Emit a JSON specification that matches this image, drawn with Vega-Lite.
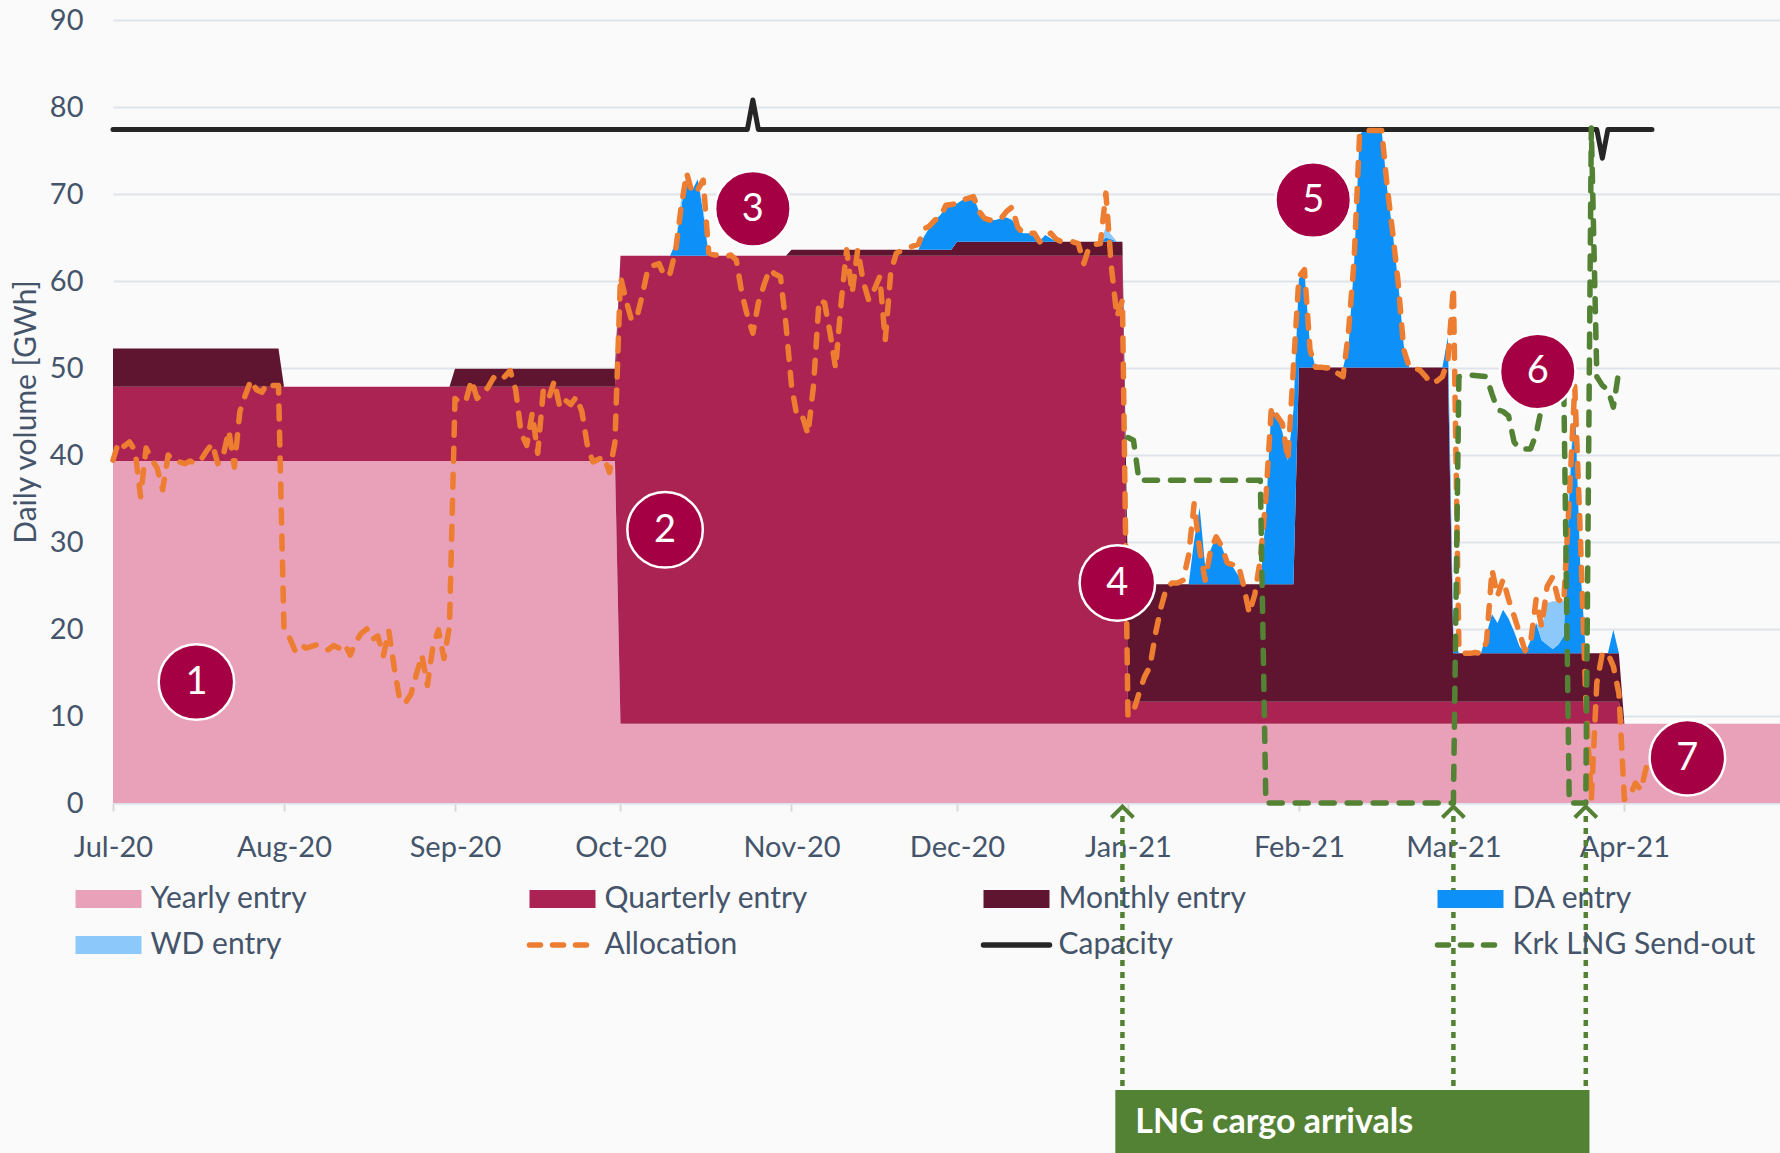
{
"$schema": "https://vega.github.io/schema/vega-lite/v6.json",
"width": 1667, "height": 783,
"autosize": {"type": "none"},
"padding": {"left": 113, "top": 20, "right": 0, "bottom": 350},
"background": "#FAFAFA",
"config": {
 "view": {"stroke": null},
 "font": "Lato",
 "axis": {"labelFont": "Lato", "titleFont": "Lato", "labelColor": "#44546A", "titleColor": "#44546A", "labelFontSize": 29, "titleFontSize": 30, "titleFontWeight": "normal"},
 "legend": {"labelFont": "Lato"}
},
"datasets": {
 "ord": [
  {"k": "Y", "s": "Yearly entry", "o": 1},
  {"k": "Q", "s": "Quarterly entry", "o": 2},
  {"k": "M", "s": "Monthly entry", "o": 3},
  {"k": "DA", "s": "DA entry", "o": 4},
  {"k": "WD", "s": "WD entry", "o": 5}
 ],
 "area": [
  {"d":"2020-07-01","Y":39.3,"Q":8.55,"M":4.4,"DA":0,"WD":0},
  {"d":"2020-07-31","Y":39.3,"Q":8.55,"M":4.4,"DA":0,"WD":0},
  {"d":"2020-08-01","Y":39.3,"Q":8.55,"M":0,"DA":0,"WD":0},
  {"d":"2020-08-31","Y":39.3,"Q":8.55,"M":0,"DA":0,"WD":0},
  {"d":"2020-09-01","Y":39.3,"Q":8.55,"M":2.05,"DA":0,"WD":0},
  {"d":"2020-09-30","Y":39.3,"Q":8.55,"M":2.05,"DA":0,"WD":0},
  {"d":"2020-10-01","Y":9.1,"Q":53.8,"M":0,"DA":0,"WD":0},
  {"d":"2020-10-10","Y":9.1,"Q":53.8,"M":0,"DA":0,"WD":0},
  {"d":"2020-10-11","Y":9.1,"Q":53.8,"M":0,"DA":1.5,"WD":0},
  {"d":"2020-10-12","Y":9.1,"Q":53.8,"M":0,"DA":5.5,"WD":1},
  {"d":"2020-10-13","Y":9.1,"Q":53.8,"M":0,"DA":9.3,"WD":0},
  {"d":"2020-10-14","Y":9.1,"Q":53.8,"M":0,"DA":7.5,"WD":0},
  {"d":"2020-10-15","Y":9.1,"Q":53.8,"M":0,"DA":8.8,"WD":0},
  {"d":"2020-10-16","Y":9.1,"Q":53.8,"M":0,"DA":5,"WD":0.5},
  {"d":"2020-10-17","Y":9.1,"Q":53.8,"M":0,"DA":0,"WD":0},
  {"d":"2020-10-31","Y":9.1,"Q":53.8,"M":0,"DA":0,"WD":0},
  {"d":"2020-11-01","Y":9.1,"Q":53.8,"M":0.7,"DA":0,"WD":0},
  {"d":"2020-11-24","Y":9.1,"Q":53.8,"M":0.7,"DA":0,"WD":0},
  {"d":"2020-11-25","Y":9.1,"Q":53.8,"M":0.7,"DA":1.5,"WD":0},
  {"d":"2020-11-26","Y":9.1,"Q":53.8,"M":0.7,"DA":2.5,"WD":0},
  {"d":"2020-11-27","Y":9.1,"Q":53.8,"M":0.7,"DA":3.4,"WD":0},
  {"d":"2020-11-28","Y":9.1,"Q":53.8,"M":0.7,"DA":4.0,"WD":0},
  {"d":"2020-11-29","Y":9.1,"Q":53.8,"M":0.7,"DA":5.0,"WD":0},
  {"d":"2020-11-30","Y":9.1,"Q":53.8,"M":0.7,"DA":5.2,"WD":0},
  {"d":"2020-12-01","Y":9.1,"Q":53.8,"M":1.6,"DA":4.4,"WD":0},
  {"d":"2020-12-02","Y":9.1,"Q":53.8,"M":1.6,"DA":4.8,"WD":0},
  {"d":"2020-12-03","Y":9.1,"Q":53.8,"M":1.6,"DA":5.0,"WD":0},
  {"d":"2020-12-04","Y":9.1,"Q":53.8,"M":1.6,"DA":5.2,"WD":0},
  {"d":"2020-12-05","Y":9.1,"Q":53.8,"M":1.6,"DA":3.5,"WD":0},
  {"d":"2020-12-06","Y":9.1,"Q":53.8,"M":1.6,"DA":2.6,"WD":0},
  {"d":"2020-12-07","Y":9.1,"Q":53.8,"M":1.6,"DA":2.5,"WD":0},
  {"d":"2020-12-08","Y":9.1,"Q":53.8,"M":1.6,"DA":2.5,"WD":0},
  {"d":"2020-12-09","Y":9.1,"Q":53.8,"M":1.6,"DA":2.7,"WD":0},
  {"d":"2020-12-10","Y":9.1,"Q":53.8,"M":1.6,"DA":2.8,"WD":0},
  {"d":"2020-12-11","Y":9.1,"Q":53.8,"M":1.6,"DA":2.5,"WD":0},
  {"d":"2020-12-12","Y":9.1,"Q":53.8,"M":1.6,"DA":1.5,"WD":0},
  {"d":"2020-12-13","Y":9.1,"Q":53.8,"M":1.6,"DA":1.0,"WD":0},
  {"d":"2020-12-14","Y":9.1,"Q":53.8,"M":1.6,"DA":1.0,"WD":0},
  {"d":"2020-12-15","Y":9.1,"Q":53.8,"M":1.6,"DA":0.6,"WD":0},
  {"d":"2020-12-16","Y":9.1,"Q":53.8,"M":1.6,"DA":0.1,"WD":0},
  {"d":"2020-12-17","Y":9.1,"Q":53.8,"M":1.6,"DA":0.8,"WD":0},
  {"d":"2020-12-18","Y":9.1,"Q":53.8,"M":1.6,"DA":0.4,"WD":0},
  {"d":"2020-12-19","Y":9.1,"Q":53.8,"M":1.6,"DA":0,"WD":0},
  {"d":"2020-12-27","Y":9.1,"Q":53.8,"M":1.6,"DA":0,"WD":0},
  {"d":"2020-12-28","Y":9.1,"Q":53.8,"M":1.6,"DA":0.5,"WD":1.2},
  {"d":"2020-12-29","Y":9.1,"Q":53.8,"M":1.6,"DA":0.3,"WD":0.5},
  {"d":"2020-12-30","Y":9.1,"Q":53.8,"M":1.6,"DA":0,"WD":0},
  {"d":"2020-12-31","Y":9.1,"Q":53.8,"M":1.6,"DA":0,"WD":0},
  {"d":"2021-01-01","Y":9.1,"Q":2.55,"M":13.5,"DA":0,"WD":0},
  {"d":"2021-01-12","Y":9.1,"Q":2.55,"M":13.5,"DA":0,"WD":0},
  {"d":"2021-01-13","Y":9.1,"Q":2.55,"M":13.5,"DA":5,"WD":0},
  {"d":"2021-01-14","Y":9.1,"Q":2.55,"M":13.5,"DA":8.8,"WD":0},
  {"d":"2021-01-15","Y":9.1,"Q":2.55,"M":13.5,"DA":2,"WD":0},
  {"d":"2021-01-16","Y":9.1,"Q":2.55,"M":13.5,"DA":4,"WD":0},
  {"d":"2021-01-17","Y":9.1,"Q":2.55,"M":13.5,"DA":5.5,"WD":0},
  {"d":"2021-01-18","Y":9.1,"Q":2.55,"M":13.5,"DA":4.3,"WD":0},
  {"d":"2021-01-19","Y":9.1,"Q":2.55,"M":13.5,"DA":2.6,"WD":0},
  {"d":"2021-01-20","Y":9.1,"Q":2.55,"M":13.5,"DA":2,"WD":0},
  {"d":"2021-01-21","Y":9.1,"Q":2.55,"M":13.5,"DA":1,"WD":0},
  {"d":"2021-01-22","Y":9.1,"Q":2.55,"M":13.5,"DA":0,"WD":0},
  {"d":"2021-01-25","Y":9.1,"Q":2.55,"M":13.5,"DA":0,"WD":0},
  {"d":"2021-01-26","Y":9.1,"Q":2.55,"M":13.5,"DA":8,"WD":0},
  {"d":"2021-01-27","Y":9.1,"Q":2.55,"M":13.5,"DA":20.3,"WD":0},
  {"d":"2021-01-28","Y":9.1,"Q":2.55,"M":13.5,"DA":19.3,"WD":0},
  {"d":"2021-01-29","Y":9.1,"Q":2.55,"M":13.5,"DA":17.5,"WD":0},
  {"d":"2021-01-30","Y":9.1,"Q":2.55,"M":13.5,"DA":14.2,"WD":0},
  {"d":"2021-01-31","Y":9.1,"Q":2.55,"M":13.5,"DA":20,"WD":0},
  {"d":"2021-02-01","Y":9.1,"Q":2.55,"M":38.4,"DA":10.2,"WD":0},
  {"d":"2021-02-02","Y":9.1,"Q":2.55,"M":38.4,"DA":11,"WD":0},
  {"d":"2021-02-03","Y":9.1,"Q":2.55,"M":38.4,"DA":2.5,"WD":0},
  {"d":"2021-02-04","Y":9.1,"Q":2.55,"M":38.4,"DA":0,"WD":0},
  {"d":"2021-02-09","Y":9.1,"Q":2.55,"M":38.4,"DA":0,"WD":0},
  {"d":"2021-02-10","Y":9.1,"Q":2.55,"M":38.4,"DA":2.5,"WD":0},
  {"d":"2021-02-11","Y":9.1,"Q":2.55,"M":38.4,"DA":12,"WD":0},
  {"d":"2021-02-12","Y":9.1,"Q":2.55,"M":38.4,"DA":26.8,"WD":0},
  {"d":"2021-02-13","Y":9.1,"Q":2.55,"M":38.4,"DA":27.4,"WD":0},
  {"d":"2021-02-16","Y":9.1,"Q":2.55,"M":38.4,"DA":27.2,"WD":0},
  {"d":"2021-02-17","Y":9.1,"Q":2.55,"M":38.4,"DA":20.5,"WD":0},
  {"d":"2021-02-18","Y":9.1,"Q":2.55,"M":38.4,"DA":15.5,"WD":0},
  {"d":"2021-02-19","Y":9.1,"Q":2.55,"M":38.4,"DA":9.7,"WD":0},
  {"d":"2021-02-20","Y":9.1,"Q":2.55,"M":38.4,"DA":2.5,"WD":0},
  {"d":"2021-02-21","Y":9.1,"Q":2.55,"M":38.4,"DA":0,"WD":0},
  {"d":"2021-02-27","Y":9.1,"Q":2.55,"M":38.4,"DA":0,"WD":0},
  {"d":"2021-02-28","Y":9.1,"Q":2.55,"M":38.4,"DA":3.5,"WD":0},
  {"d":"2021-03-01","Y":9.1,"Q":2.55,"M":5.55,"DA":2,"WD":0},
  {"d":"2021-03-02","Y":9.1,"Q":2.55,"M":5.55,"DA":0,"WD":0},
  {"d":"2021-03-06","Y":9.1,"Q":2.55,"M":5.55,"DA":0,"WD":0},
  {"d":"2021-03-07","Y":9.1,"Q":2.55,"M":5.55,"DA":2.2,"WD":0},
  {"d":"2021-03-08","Y":9.1,"Q":2.55,"M":5.55,"DA":4.5,"WD":0},
  {"d":"2021-03-09","Y":9.1,"Q":2.55,"M":5.55,"DA":3.5,"WD":0},
  {"d":"2021-03-10","Y":9.1,"Q":2.55,"M":5.55,"DA":5,"WD":0},
  {"d":"2021-03-11","Y":9.1,"Q":2.55,"M":5.55,"DA":4,"WD":0},
  {"d":"2021-03-12","Y":9.1,"Q":2.55,"M":5.55,"DA":2.5,"WD":0},
  {"d":"2021-03-13","Y":9.1,"Q":2.55,"M":5.55,"DA":0.8,"WD":0},
  {"d":"2021-03-14","Y":9.1,"Q":2.55,"M":5.55,"DA":0,"WD":0},
  {"d":"2021-03-15","Y":9.1,"Q":2.55,"M":5.55,"DA":1.5,"WD":0},
  {"d":"2021-03-16","Y":9.1,"Q":2.55,"M":5.55,"DA":3.5,"WD":0},
  {"d":"2021-03-17","Y":9.1,"Q":2.55,"M":5.55,"DA":1.5,"WD":1.5},
  {"d":"2021-03-18","Y":9.1,"Q":2.55,"M":5.55,"DA":1,"WD":4.8},
  {"d":"2021-03-19","Y":9.1,"Q":2.55,"M":5.55,"DA":0.5,"WD":5.5},
  {"d":"2021-03-20","Y":9.1,"Q":2.55,"M":5.55,"DA":1,"WD":5},
  {"d":"2021-03-21","Y":9.1,"Q":2.55,"M":5.55,"DA":2,"WD":4},
  {"d":"2021-03-22","Y":9.1,"Q":2.55,"M":5.55,"DA":18,"WD":2},
  {"d":"2021-03-23","Y":9.1,"Q":2.55,"M":5.55,"DA":29.5,"WD":0},
  {"d":"2021-03-24","Y":9.1,"Q":2.55,"M":5.55,"DA":10,"WD":0},
  {"d":"2021-03-25","Y":9.1,"Q":2.55,"M":5.55,"DA":0,"WD":0},
  {"d":"2021-03-29","Y":9.1,"Q":2.55,"M":5.55,"DA":0,"WD":0},
  {"d":"2021-03-30","Y":9.1,"Q":2.55,"M":5.55,"DA":2.7,"WD":0},
  {"d":"2021-03-31","Y":9.1,"Q":2.55,"M":5.55,"DA":0,"WD":0},
  {"d":"2021-04-01","Y":9.1,"Q":0,"M":0,"DA":0,"WD":0},
  {"d":"2021-04-30","Y":9.1,"Q":0,"M":0,"DA":0,"WD":0}
 ],
 "alloc": [
  {"d":"2020-07-01","v":39.4},{"d":"2020-07-02","v":41.5},{"d":"2020-07-03","v":41.0},{"d":"2020-07-04","v":41.5},{"d":"2020-07-05","v":40.5},{"d":"2020-07-06","v":35.2},{"d":"2020-07-07","v":40.8},{"d":"2020-07-08","v":39.5},{"d":"2020-07-09","v":38.5},{"d":"2020-07-10","v":36.0},{"d":"2020-07-11","v":40.0},{"d":"2020-07-12","v":39.3},{"d":"2020-07-13","v":39.2},{"d":"2020-07-14","v":39.0},{"d":"2020-07-15","v":39.3},{"d":"2020-07-16","v":39.0},{"d":"2020-07-17","v":39.5},{"d":"2020-07-18","v":40.5},{"d":"2020-07-19","v":41.3},{"d":"2020-07-20","v":39.0},{"d":"2020-07-21","v":40.0},{"d":"2020-07-22","v":42.8},{"d":"2020-07-23","v":38.6},{"d":"2020-07-24","v":45.0},{"d":"2020-07-25","v":46.9},{"d":"2020-07-26","v":48.6},{"d":"2020-07-27","v":47.5},{"d":"2020-07-28","v":47.2},{"d":"2020-07-29","v":48.3},{"d":"2020-07-30","v":48.0},{"d":"2020-07-31","v":48.0},
  {"d":"2020-08-01","v":19.9},{"d":"2020-08-02","v":19.0},{"d":"2020-08-03","v":17.5},{"d":"2020-08-04","v":18.2},{"d":"2020-08-05","v":17.8},{"d":"2020-08-06","v":18.0},{"d":"2020-08-07","v":18.2},{"d":"2020-08-08","v":18.0},{"d":"2020-08-09","v":17.6},{"d":"2020-08-10","v":18.1},{"d":"2020-08-11","v":17.8},{"d":"2020-08-12","v":18.3},{"d":"2020-08-13","v":17.0},{"d":"2020-08-14","v":18.5},{"d":"2020-08-15","v":19.5},{"d":"2020-08-16","v":20.0},{"d":"2020-08-17","v":18.8},{"d":"2020-08-18","v":19.2},{"d":"2020-08-19","v":16.9},{"d":"2020-08-20","v":19.8},{"d":"2020-08-21","v":15.5},{"d":"2020-08-22","v":11.8},{"d":"2020-08-23","v":11.5},{"d":"2020-08-24","v":12.5},{"d":"2020-08-25","v":14.8},{"d":"2020-08-26","v":17.0},{"d":"2020-08-27","v":13.5},{"d":"2020-08-28","v":18.0},{"d":"2020-08-29","v":19.9},{"d":"2020-08-30","v":16.6},{"d":"2020-08-31","v":20.3},
  {"d":"2020-09-01","v":46.5},{"d":"2020-09-02","v":46.0},{"d":"2020-09-03","v":46.3},{"d":"2020-09-04","v":48.6},{"d":"2020-09-05","v":46.5},{"d":"2020-09-06","v":47.0},{"d":"2020-09-07","v":47.8},{"d":"2020-09-08","v":48.9},{"d":"2020-09-09","v":48.5},{"d":"2020-09-10","v":49.0},{"d":"2020-09-11","v":49.7},{"d":"2020-09-12","v":47.5},{"d":"2020-09-13","v":42.5},{"d":"2020-09-14","v":41.1},{"d":"2020-09-15","v":44.8},{"d":"2020-09-16","v":40.2},{"d":"2020-09-17","v":47.4},{"d":"2020-09-18","v":46.5},{"d":"2020-09-19","v":48.5},{"d":"2020-09-20","v":45.5},{"d":"2020-09-21","v":46.3},{"d":"2020-09-22","v":45.8},{"d":"2020-09-23","v":46.7},{"d":"2020-09-24","v":45.0},{"d":"2020-09-25","v":41.1},{"d":"2020-09-26","v":39.2},{"d":"2020-09-27","v":39.5},{"d":"2020-09-28","v":39.8},{"d":"2020-09-29","v":38.0},{"d":"2020-09-30","v":41.5},
  {"d":"2020-10-01","v":60.5},{"d":"2020-10-02","v":57.8},{"d":"2020-10-03","v":55.5},{"d":"2020-10-04","v":55.9},{"d":"2020-10-05","v":58.5},{"d":"2020-10-06","v":61.5},{"d":"2020-10-07","v":61.8},{"d":"2020-10-08","v":62.0},{"d":"2020-10-09","v":60.5},{"d":"2020-10-10","v":60.9},{"d":"2020-10-11","v":63.5},{"d":"2020-10-12","v":68.5},{"d":"2020-10-13","v":72.4},{"d":"2020-10-14","v":70.1},{"d":"2020-10-15","v":70.5},{"d":"2020-10-16","v":71.6},{"d":"2020-10-17","v":63.2},{"d":"2020-10-18","v":63.0},{"d":"2020-10-19","v":63.0},{"d":"2020-10-20","v":62.8},{"d":"2020-10-21","v":63.0},{"d":"2020-10-22","v":62.4},{"d":"2020-10-23","v":58.6},{"d":"2020-10-24","v":56.0},{"d":"2020-10-25","v":54.0},{"d":"2020-10-26","v":57.5},{"d":"2020-10-27","v":59.5},{"d":"2020-10-28","v":61.3},{"d":"2020-10-29","v":60.8},{"d":"2020-10-30","v":60.5},{"d":"2020-10-31","v":55.0},
  {"d":"2020-11-01","v":48.0},{"d":"2020-11-02","v":44.4},{"d":"2020-11-03","v":44.4},{"d":"2020-11-04","v":42.4},{"d":"2020-11-05","v":48.0},{"d":"2020-11-06","v":57.8},{"d":"2020-11-07","v":57.5},{"d":"2020-11-08","v":54.0},{"d":"2020-11-09","v":50.0},{"d":"2020-11-10","v":57.5},{"d":"2020-11-11","v":63.6},{"d":"2020-11-12","v":58.6},{"d":"2020-11-13","v":63.6},{"d":"2020-11-14","v":60.0},{"d":"2020-11-15","v":57.8},{"d":"2020-11-16","v":59.0},{"d":"2020-11-17","v":60.5},{"d":"2020-11-18","v":53.2},{"d":"2020-11-19","v":61.0},{"d":"2020-11-20","v":63.2},{"d":"2020-11-21","v":63.5},{"d":"2020-11-22","v":63.8},{"d":"2020-11-23","v":64.0},{"d":"2020-11-24","v":64.2},{"d":"2020-11-25","v":66.0},{"d":"2020-11-26","v":66.3},{"d":"2020-11-27","v":67.0},{"d":"2020-11-28","v":67.4},{"d":"2020-11-29","v":68.7},{"d":"2020-11-30","v":68.8},
  {"d":"2020-12-01","v":68.9},{"d":"2020-12-02","v":69.3},{"d":"2020-12-03","v":69.5},{"d":"2020-12-04","v":69.7},{"d":"2020-12-05","v":68.0},{"d":"2020-12-06","v":67.2},{"d":"2020-12-07","v":67.0},{"d":"2020-12-08","v":67.0},{"d":"2020-12-09","v":67.2},{"d":"2020-12-10","v":68.0},{"d":"2020-12-11","v":68.5},{"d":"2020-12-12","v":66.2},{"d":"2020-12-13","v":65.5},{"d":"2020-12-14","v":65.5},{"d":"2020-12-15","v":65.5},{"d":"2020-12-16","v":64.5},{"d":"2020-12-17","v":65.0},{"d":"2020-12-18","v":65.5},{"d":"2020-12-19","v":64.8},{"d":"2020-12-20","v":64.5},{"d":"2020-12-21","v":64.5},{"d":"2020-12-22","v":64.5},{"d":"2020-12-23","v":64.3},{"d":"2020-12-24","v":62.0},{"d":"2020-12-25","v":64.0},{"d":"2020-12-26","v":64.2},{"d":"2020-12-27","v":64.3},{"d":"2020-12-28","v":70.1},{"d":"2020-12-29","v":61.6},{"d":"2020-12-30","v":55.9},{"d":"2020-12-31","v":57.8},
  {"d":"2021-01-01","v":10.0},{"d":"2021-01-02","v":10.5},{"d":"2021-01-03","v":12.6},{"d":"2021-01-04","v":14.5},{"d":"2021-01-05","v":15.7},{"d":"2021-01-06","v":19.5},{"d":"2021-01-07","v":22.5},{"d":"2021-01-08","v":24.8},{"d":"2021-01-09","v":25.3},{"d":"2021-01-10","v":25.3},{"d":"2021-01-11","v":25.6},{"d":"2021-01-12","v":28.5},{"d":"2021-01-13","v":34.4},{"d":"2021-01-14","v":29.1},{"d":"2021-01-15","v":25.6},{"d":"2021-01-16","v":29.1},{"d":"2021-01-17","v":30.6},{"d":"2021-01-18","v":29.5},{"d":"2021-01-19","v":27.6},{"d":"2021-01-20","v":27.4},{"d":"2021-01-21","v":27.4},{"d":"2021-01-22","v":24.9},{"d":"2021-01-23","v":21.8},{"d":"2021-01-24","v":24.0},{"d":"2021-01-25","v":28.0},{"d":"2021-01-26","v":35.0},{"d":"2021-01-27","v":45.5},{"d":"2021-01-28","v":44.5},{"d":"2021-01-29","v":43.6},{"d":"2021-01-30","v":39.4},{"d":"2021-01-31","v":50.1},
  {"d":"2021-02-01","v":60.5},{"d":"2021-02-02","v":61.3},{"d":"2021-02-03","v":52.1},{"d":"2021-02-04","v":50.1},{"d":"2021-02-05","v":50.1},{"d":"2021-02-06","v":50.0},{"d":"2021-02-07","v":50.1},{"d":"2021-02-08","v":49.4},{"d":"2021-02-09","v":49.0},{"d":"2021-02-10","v":54.3},{"d":"2021-02-11","v":62.4},{"d":"2021-02-12","v":76.9},{"d":"2021-02-13","v":77.3},{"d":"2021-02-14","v":77.3},{"d":"2021-02-15","v":77.3},{"d":"2021-02-16","v":77.3},{"d":"2021-02-17","v":70.8},{"d":"2021-02-18","v":65.5},{"d":"2021-02-19","v":59.7},{"d":"2021-02-20","v":52.1},{"d":"2021-02-21","v":50.1},{"d":"2021-02-22","v":50.0},{"d":"2021-02-23","v":49.7},{"d":"2021-02-24","v":49.0},{"d":"2021-02-25","v":48.2},{"d":"2021-02-26","v":48.5},{"d":"2021-02-27","v":49.0},{"d":"2021-02-28","v":50.9},
  {"d":"2021-03-01","v":59.3},{"d":"2021-03-02","v":17.6},{"d":"2021-03-03","v":17.2},{"d":"2021-03-04","v":17.2},{"d":"2021-03-05","v":17.3},{"d":"2021-03-06","v":17.2},{"d":"2021-03-07","v":18.5},{"d":"2021-03-08","v":26.8},{"d":"2021-03-09","v":23.8},{"d":"2021-03-10","v":25.7},{"d":"2021-03-11","v":23.4},{"d":"2021-03-12","v":21.5},{"d":"2021-03-13","v":19.5},{"d":"2021-03-14","v":17.5},{"d":"2021-03-15","v":18.5},{"d":"2021-03-16","v":23.4},{"d":"2021-03-17","v":20.3},{"d":"2021-03-18","v":24.9},{"d":"2021-03-19","v":26.0},{"d":"2021-03-20","v":23.4},{"d":"2021-03-21","v":23.0},{"d":"2021-03-22","v":34.9},{"d":"2021-03-23","v":47.9},{"d":"2021-03-24","v":31.0},{"d":"2021-03-25","v":11.9},{"d":"2021-03-26","v":0.4},{"d":"2021-03-27","v":13.8},{"d":"2021-03-28","v":17.2},{"d":"2021-03-29","v":17.2},{"d":"2021-03-30","v":15.7},{"d":"2021-03-31","v":12.6},
  {"d":"2021-04-01","v":0.4},{"d":"2021-04-02","v":0.8},{"d":"2021-04-03","v":2.3},{"d":"2021-04-04","v":1.5},{"d":"2021-04-05","v":4.2},{"d":"2021-04-06","v":5.0}
 ],
 "cap": [
  {"d":"2020-07-01","v":77.4},{"d":"2020-10-24","v":77.4},{"d":"2020-10-25","v":80.8},{"d":"2020-10-26","v":77.4},{"d":"2021-03-27","v":77.4},{"d":"2021-03-28","v":74.1},{"d":"2021-03-29","v":77.4},{"d":"2021-04-06","v":77.4}
 ],
 "send": [
  {"d":"2021-01-01","v":42.0},{"d":"2021-01-02","v":41.7},{"d":"2021-01-03","v":37.1},{"d":"2021-01-25","v":37.1},{"d":"2021-01-26","v":0},{"d":"2021-03-01","v":0},{"d":"2021-03-02","v":49.0},{"d":"2021-03-04","v":49.2},{"d":"2021-03-07","v":49.0},{"d":"2021-03-08","v":47.0},{"d":"2021-03-09","v":45.2},{"d":"2021-03-10","v":45.0},{"d":"2021-03-11","v":44.5},{"d":"2021-03-12","v":41.5},{"d":"2021-03-13","v":40.7},{"d":"2021-03-15","v":40.7},{"d":"2021-03-16","v":42.4},{"d":"2021-03-17","v":45.5},{"d":"2021-03-18","v":48.5},{"d":"2021-03-19","v":49.0},{"d":"2021-03-21","v":48.5},{"d":"2021-03-22","v":0},{"d":"2021-03-25","v":0},{"d":"2021-03-26","v":77.6},{"d":"2021-03-27","v":49.0},{"d":"2021-03-28","v":48.0},{"d":"2021-03-29","v":47.5},{"d":"2021-03-30","v":45.5},{"d":"2021-03-31","v":49.7}
 ],
 "notes": [
  {"d":"2020-07-16T03:00:00Z","v":13.9,"n":"1"},
  {"d":"2020-10-09T02:00:00Z","v":31.4,"n":"2"},
  {"d":"2020-10-25T00:00:00Z","v":68.3,"n":"3"},
  {"d":"2020-12-30T02:00:00Z","v":25.3,"n":"4"},
  {"d":"2021-02-03T14:00:00Z","v":69.3,"n":"5"},
  {"d":"2021-03-16T07:00:00Z","v":49.6,"n":"6"},
  {"d":"2021-04-12T10:00:00Z","v":5.2,"n":"7"}
 ],
 "arr": [{"d":"2020-12-31"},{"d":"2021-03-01"},{"d":"2021-03-25"}],
 "box": [{"a":"2020-12-29T17:00:00Z","b":"2021-03-25T16:00:00Z","t":"LNG cargo arrivals"}]
},
"layer": [
 {
  "data": {"name": "area"},
  "transform": [
   {"fold": ["Y","Q","M","DA","WD"], "as": ["k","v"]},
   {"lookup": "k", "from": {"data": {"name": "ord"}, "key": "k", "fields": ["s","o"]}}
  ],
  "mark": {"type": "area", "interpolate": "linear"},
  "encoding": {
   "x": {"field": "d", "type": "temporal", "title": null,
    "scale": {"type": "utc", "domain": [{"year":2020,"month":7,"date":1,"utc":true},{"year":2021,"month":4,"date":29,"hours":5,"utc":true}]},
    "axis": {"format": "%b-%y", "tickCount": "month", "grid": false, "domain": true, "domainColor": "#DFE4EB", "domainWidth": 2, "ticks": true, "tickColor": "#D9D9D9", "tickSize": 8, "tickWidth": 2, "labelPadding": 22, "labelFlush": false, "labelOverlap": false}},
   "y": {"field": "v", "type": "quantitative", "stack": "zero",
    "scale": {"domain": [0, 90], "nice": false, "zero": true},
    "axis": {"values": [0,10,20,30,40,50,60,70,80,90], "grid": true, "gridColor": "#DFE4EB", "gridWidth": 2, "domain": false, "ticks": false, "labelPadding": 30, "title": "Daily volume [GWh]", "titlePadding": 8}},
   "color": {"field": "s", "type": "nominal",
    "scale": {"domain": ["Yearly entry","Quarterly entry","Monthly entry","DA entry","WD entry","Allocation","Capacity","Krk LNG Send-out"],
              "range": ["#E9A1BA","#AA2352","#5F1430","#0E90F9","#8CC8F9","#ED7D31","#262626","#548235"]},
    "legend": {"orient": "none", "legendX": -42.5, "legendY": 864, "direction": "horizontal", "columns": 4, "title": null, "gridAlign": "all", "columnPadding": 125, "rowPadding": 16, "symbolSize": 400, "symbolStrokeWidth": 0, "labelOffset": 50, "labelFontSize": 30, "labelColor": "#44546A", "labelFont": "Lato", "labelLimit": 500, "symbolLimit": 0, "padding": 0,
     "encode": {"symbols": {"update": {
      "shape": {"signal": "indexof(['Allocation','Capacity','Krk LNG Send-out'], datum.value) >= 0 ? 'M-1,0H5.6' : 'M-1,-0.9H5.6V0.9H-1Z'"},
      "size": {"value": 400},
      "fill": {"signal": "indexof(['Allocation','Capacity','Krk LNG Send-out'], datum.value) >= 0 ? 'transparent' : scale('color', datum.value)"},
      "stroke": {"signal": "scale('color', datum.value)"},
      "strokeWidth": {"signal": "indexof(['Allocation','Capacity','Krk LNG Send-out'], datum.value) >= 0 ? 5.5 : 0"},
      "strokeDash": {"signal": "indexof(['Allocation','Krk LNG Send-out'], datum.value) >= 0 ? [11,12] : [1,0]"},
      "strokeCap": {"value": "round"},
      "opacity": {"value": 1}
     }}}}
   },
   "order": {"field": "o", "type": "quantitative", "sort": "ascending"}
  }
 },
 {
  "data": {"name": "cap"},
  "mark": {"type": "line", "strokeWidth": 5, "strokeCap": "round", "strokeJoin": "round"},
  "encoding": {
   "x": {"field": "d", "type": "temporal", "title": null},
   "y": {"field": "v", "type": "quantitative"},
   "color": {"datum": "Capacity"}
  }
 },
 {
  "data": {"name": "alloc"},
  "mark": {"type": "line", "strokeWidth": 5.5, "strokeCap": "round", "strokeJoin": "round", "strokeDash": [13, 13]},
  "encoding": {
   "x": {"field": "d", "type": "temporal", "title": null},
   "y": {"field": "v", "type": "quantitative"},
   "color": {"datum": "Allocation"}
  }
 },
 {
  "data": {"name": "send"},
  "mark": {"type": "line", "strokeWidth": 5.5, "strokeCap": "round", "strokeJoin": "round", "strokeDash": [13, 13]},
  "encoding": {
   "x": {"field": "d", "type": "temporal", "title": null},
   "y": {"field": "v", "type": "quantitative"},
   "color": {"datum": "Krk LNG Send-out"}
  }
 },
 {
  "data": {"name": "arr"},
  "mark": {"type": "rule", "color": "#548235", "strokeWidth": 4.5, "strokeDash": [6, 6]},
  "encoding": {
   "x": {"field": "d", "type": "temporal", "title": null},
   "y": {"datum": -1.5},
   "y2": {"datum": -33}
  }
 },
 {
  "data": {"name": "arr"},
  "mark": {"type": "point", "shape": "M-1,1L0,0L1,1", "filled": false, "stroke": "#548235", "strokeWidth": 4, "size": 484, "opacity": 1, "strokeJoin": "miter"},
  "encoding": {
   "x": {"field": "d", "type": "temporal", "title": null},
   "y": {"datum": -0.4}
  }
 },
 {
  "data": {"name": "box"},
  "mark": {"type": "rect", "color": "#548235"},
  "encoding": {
   "x": {"field": "a", "type": "temporal", "title": null},
   "x2": {"field": "b"},
   "y": {"datum": -33},
   "y2": {"datum": -42}
  }
 },
 {
  "data": {"name": "box"},
  "mark": {"type": "text", "font": "Lato", "fontSize": 34, "fontWeight": "bold", "color": "#FFFFFF", "align": "left", "baseline": "alphabetic", "dx": 20},
  "encoding": {
   "x": {"field": "a", "type": "temporal", "title": null},
   "y": {"datum": -37.9},
   "text": {"field": "t"}
  }
 },
 {
  "data": {"name": "notes"},
  "mark": {"type": "point", "shape": "circle", "filled": true, "size": 5700, "fill": "#A50044", "stroke": "#FFFFFF", "strokeWidth": 2.5, "opacity": 1},
  "encoding": {
   "x": {"field": "d", "type": "temporal", "title": null},
   "y": {"field": "v", "type": "quantitative"}
  }
 },
 {
  "data": {"name": "notes"},
  "mark": {"type": "text", "font": "Lato", "fontSize": 38, "color": "#FFFFFF", "align": "center", "baseline": "middle", "dy": 1},
  "encoding": {
   "x": {"field": "d", "type": "temporal", "title": null},
   "y": {"field": "v", "type": "quantitative"},
   "text": {"field": "n"}
  }
 }
]
}
